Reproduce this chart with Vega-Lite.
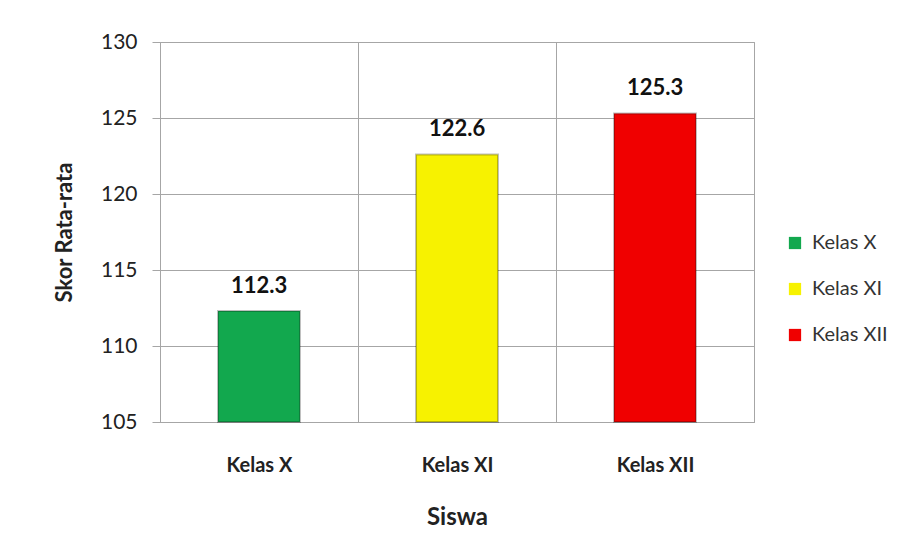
{
  "$schema": "https://vega.github.io/schema/vega-lite/v6.json",
  "autosize": "none",
  "width": 594,
  "height": 380,
  "padding": {"left": 160, "top": 42, "right": 157, "bottom": 134},
  "background": "white",
  "config": {
    "font": "Lato",
    "view": {"stroke": "#a6a6a6", "strokeWidth": 1}
  },
  "data": {
    "values": [
      {"kelas": "Kelas X", "skor": 112.3},
      {"kelas": "Kelas XI", "skor": 122.6},
      {"kelas": "Kelas XII", "skor": 125.3}
    ]
  },
  "encoding": {
    "x": {
      "field": "kelas",
      "type": "nominal",
      "sort": null,
      "scale": {"paddingInner": 0, "paddingOuter": 0},
      "axis": {
        "title": "Siswa",
        "titleFontSize": 24,
        "titleFontWeight": "bold",
        "titleColor": "#222",
        "titlePadding": 30,
        "labelAngle": 0,
        "labelFontSize": 20,
        "labelFontWeight": "bold",
        "labelColor": "#222",
        "labelPadding": 33,
        "ticks": false,
        "tickBand": "extent",
        "grid": true,
        "gridColor": "#a6a6a6",
        "domainColor": "#a6a6a6"
      }
    },
    "y": {
      "field": "skor",
      "type": "quantitative",
      "scale": {"domain": [105, 130], "zero": false, "nice": false},
      "axis": {
        "title": "Skor Rata-rata",
        "titleFontSize": 22,
        "titleFontWeight": "bold",
        "titleColor": "#222",
        "titlePadding": 24,
        "values": [105, 110, 115, 120, 125, 130],
        "labelFontSize": 21,
        "labelColor": "#222",
        "labelPadding": 15,
        "tickSize": 8,
        "tickColor": "#a6a6a6",
        "domainColor": "#a6a6a6",
        "gridColor": "#a6a6a6"
      }
    }
  },
  "layer": [
    {
      "mark": {"type": "bar", "width": {"band": 0.414}, "stroke": "#00000040", "strokeWidth": 2},
      "encoding": {
        "y2": {"datum": 105},
        "color": {
          "field": "kelas",
          "type": "nominal",
          "sort": null,
          "scale": {"domain": ["Kelas X", "Kelas XI", "Kelas XII"], "range": ["#12a84e", "#f7f200", "#f00000"]},
          "legend": {
            "title": null,
            "orient": "none",
            "legendX": 625,
            "legendY": 191,
            "symbolType": "square",
            "symbolSize": 150,
            "symbolStrokeWidth": 0,
            "labelFontSize": 20,
            "labelColor": "#333",
            "labelOffset": 7,
            "rowPadding": 26
          }
        }
      }
    },
    {
      "mark": {"type": "text", "baseline": "bottom", "dy": -13, "fontSize": 22, "fontWeight": "bold", "color": "#111"},
      "encoding": {
        "text": {"field": "skor", "type": "quantitative", "format": ".1f"}
      }
    }
  ]
}
